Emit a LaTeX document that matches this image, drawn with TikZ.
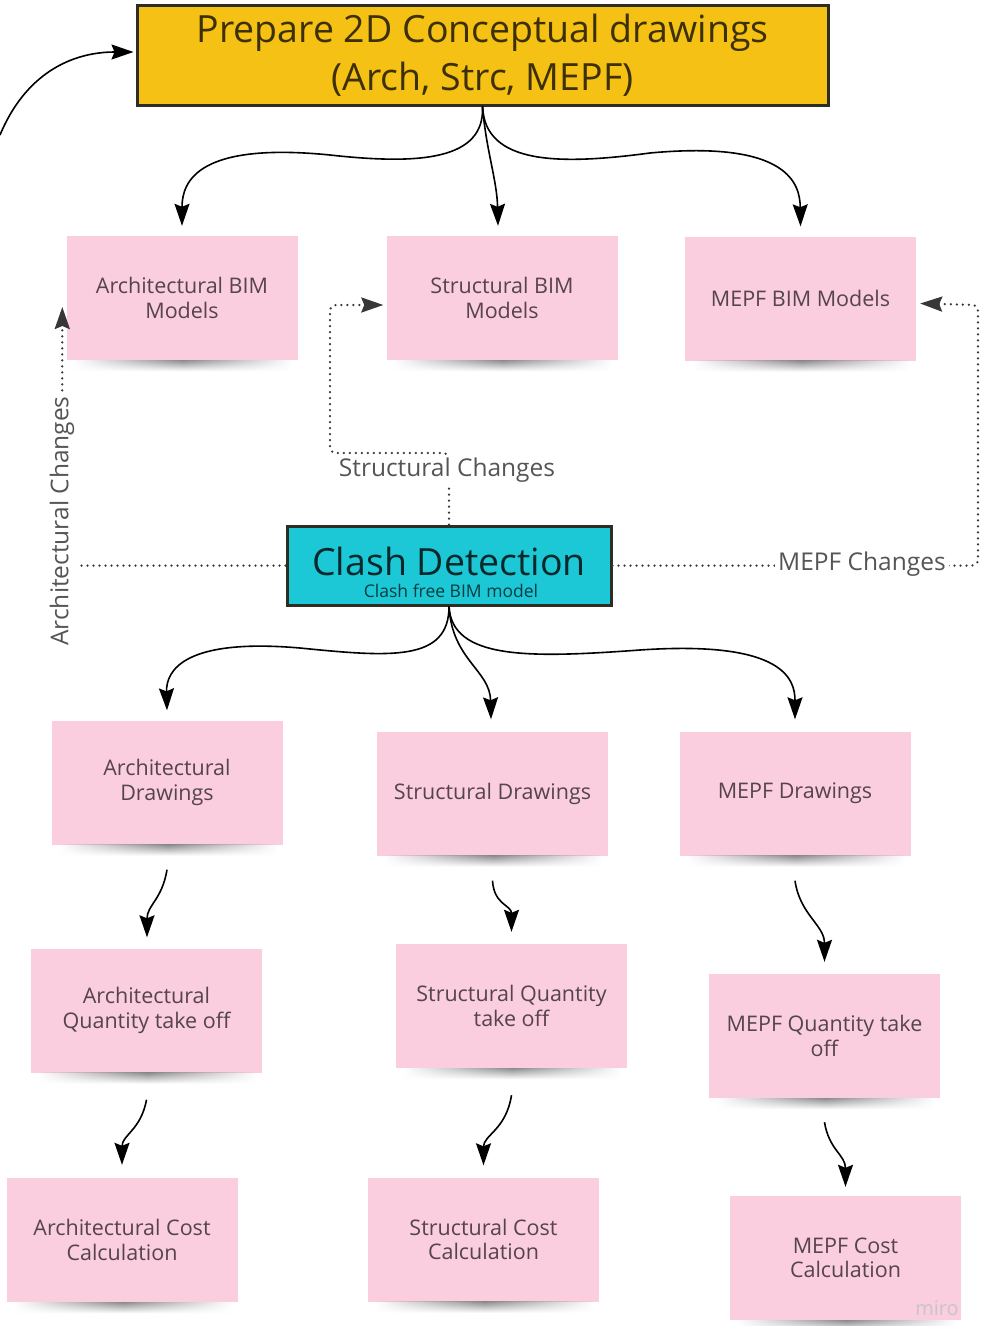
\documentclass[tikz,border=0pt]{standalone}
\usepackage{fontspec}
\setmainfont{Open Sans}
\usetikzlibrary{arrows.meta,calc,fadings}
\definecolor{notepink}{RGB}{250,205,223}
\definecolor{topyellow}{RGB}{245,193,20}
\definecolor{clashcyan}{RGB}{28,200,214}
\definecolor{boxborder}{RGB}{45,45,35}
\definecolor{notetext}{RGB}{85,68,76}
\definecolor{dotcol}{RGB}{55,55,55}
\tikzfading[name=sidefade, left color=transparent!100, right color=transparent!100, middle color=transparent!0]
\tikzset{
  note/.style={fill=notepink, minimum width=231pt, minimum height=124pt, inner sep=0pt, align=center, text=notetext, font=\fontsize{21.5}{24.5}\selectfont},
  topbox/.style={fill=topyellow, draw=boxborder, line width=3pt, minimum width=691pt, minimum height=100pt, align=center, text=black!75!topyellow, font=\fontsize{37.5}{48}\selectfont},
  clashbox/.style={fill=clashcyan, draw=boxborder, line width=3pt, minimum width=324pt, minimum height=79pt},
  bigtip/.style={-{Stealth[length=22pt 0 0,width=15pt 0,inset=3pt 0]}},
  arr/.style={line width=1.6pt, bigtip},
  dotline/.style={line width=2.5pt, dash pattern=on 0pt off 6pt, line cap=round, draw=dotcol, rounded corners=6pt},
  chlabel/.style={fill=white, text=dotcol!85, font=\fontsize{24.5}{28}\selectfont, inner sep=3pt},
}
\newcommand{\noteshadow}[1]{\shade[top color=black!45, bottom color=white, path fading=sidefade] ([xshift=8pt]#1.south west) rectangle ([xshift=-6pt,yshift=-11pt]#1.south east);}
\begin{document}
\begin{tikzpicture}[x=1pt,y=-1pt]
\useasboundingbox (0,0) rectangle (985,1326);
\fill[white] (0,0) rectangle (985,1326);

% top box
\node[topbox] (top) at (482.5,55) {Prepare 2D Conceptual drawings\\(Arch, Strc, MEPF)};

% row 1
\node[note] (ab) at (182,298) {Architectural BIM\\Models};
\node[note] (sb) at (502,298) {Structural BIM\\Models};
\node[note] (mb) at (800.5,298.5) {MEPF BIM Models};
\noteshadow{ab}\noteshadow{sb}\noteshadow{mb}

% clash
\node[clashbox] (cd) at (449,565.5) {};
\node[text=black!80!clashcyan, font=\fontsize{37.5}{37.5}\selectfont, inner sep=0pt] (cdt) at (449,561) {Clash Detection};
\node[text=black!70!clashcyan, font=\fontsize{17.5}{18}\selectfont, inner sep=0pt] (cds) at (451,591) {Clash free BIM model};

% row 2
\node[note] (ad) at (167,782.5) {Architectural\\Drawings};
\node[note] (sd) at (492.5,793.5) {Structural Drawings};
\node[note] (md) at (795,793.5) {MEPF Drawings};
% row 3
\node[note] (aq) at (146.5,1010.5) {Architectural\\Quantity take off};
\node[note] (sq) at (511.5,1006) {Structural Quantity\\take off};
\node[note] (mq) at (824.5,1036) {MEPF Quantity take\\off};
% row 4
\node[note] (ac) at (122,1240) {Architectural Cost\\Calculation};
\node[note] (sc) at (483.5,1239.5) {Structural Cost\\Calculation};
\node[note] (mc) at (845.5,1258) {MEPF Cost\\Calculation};
\noteshadow{ad}\noteshadow{sd}\noteshadow{md}
\noteshadow{aq}\noteshadow{sq}\noteshadow{mq}
\noteshadow{ac}\noteshadow{sc}\noteshadow{mc}

% loop arrow into top box
\coordinate (loopstart) at (0,135);
\draw[arr] (loopstart) .. controls (25,75) and (70,52) .. ([xshift=-2pt,yshift=3pt]top.west);

% top box to BIM models
\draw[arr] (top.south) .. controls (485,160) and (420,165) .. (330,155) .. controls (200,142) and (182,180) .. ([yshift=10pt]ab.north);
\draw[arr] (top.south) .. controls (486,150) and (497,180) .. ([xshift=-4pt,yshift=10pt]sb.north);
\draw[arr] (top.south) .. controls (485,165) and (560,165) .. (650,153) .. controls (790,140) and (800,185) .. ([yshift=10pt]mb.north);

% clash to drawings
\draw[arr] (cd.south) .. controls (449,662) and (390,657) .. (300,648) .. controls (185,638) and (166,670) .. ([yshift=10pt]ad.north);
\draw[arr] (cd.south) .. controls (452,660) and (490,670) .. ([xshift=-1.5pt,yshift=12pt]sd.north);
\draw[arr] (cd.south) .. controls (452,660) and (530,658) .. (640,650) .. controls (785,640) and (795,680) .. ([yshift=12pt]md.north);

% drawings to quantities
\draw[arr] ([yshift=-25pt]ad.south) .. controls (162,900) and (147,905) .. ([xshift=0.5pt,yshift=11pt]aq.north);
\draw[arr] ([yshift=-25pt]sd.south) .. controls (494,905) and (511.5,905) .. ([yshift=12pt]sq.north);
\draw[arr] ([yshift=-25pt]md.south) .. controls (800,915) and (824.5,925) .. ([yshift=12pt]mq.north);

% quantities to costs
\draw[arr] ([yshift=-27pt]aq.south) .. controls (141,1130) and (122,1135) .. ([yshift=13pt]ac.north);
\draw[arr] ([yshift=-27pt]sq.south) .. controls (506,1130) and (483.5,1135) .. ([yshift=12pt]sc.north);
\draw[arr] ([yshift=-24pt]mq.south) .. controls (829,1150) and (845.5,1155) .. ([yshift=9pt]mc.north);

% change loops (dotted)
\draw[dotline, bigtip] (cd.north) -- (449,453) -- (330,453) -- (330,305) -- ([xshift=-3pt,yshift=-7pt]sb.west);
\node[chlabel] (slab) at (447,470) {Structural Changes};

\draw[dotline, bigtip] (cd.east) -- (978,565.5) -- (978,305) -- ([xshift=4pt,yshift=-5pt]mb.east);
\node[chlabel] (mlab) at (862,564) {MEPF Changes};

\draw[dotline, bigtip] (cd.west) -- (62,565.5) -- ([xshift=-4pt,yshift=-9pt]ab.west);
\node[chlabel, rotate=90] (alab) at (62,521) {Architectural Changes};

% watermark
\node[text=gray!45, font=\fontsize{20}{20}\selectfont, inner sep=0pt] (miro) at (937,1308) {miro};
\end{tikzpicture}
\end{document}
